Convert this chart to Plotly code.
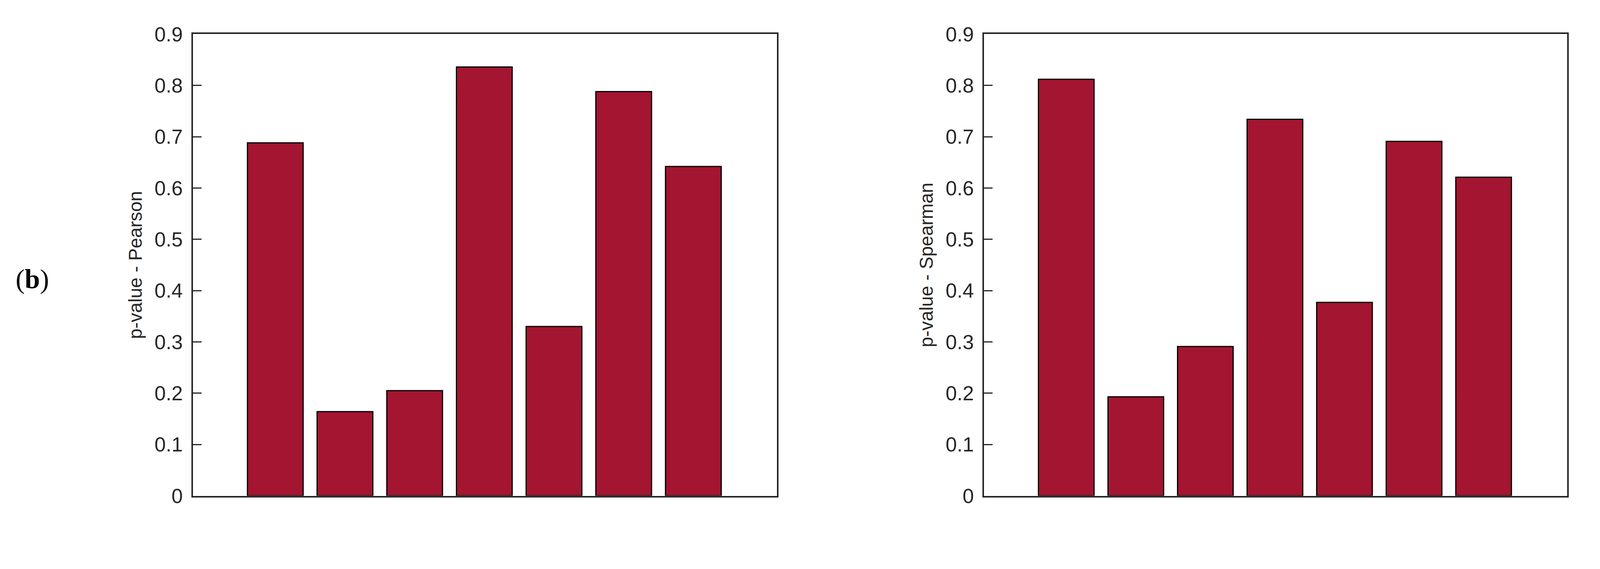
import plotly.graph_objects as go

categories = [1, 2, 3, 4, 5, 6, 7]
pearson = [0.688, 0.164, 0.205, 0.836, 0.330, 0.788, 0.642]
spearman = [0.812, 0.193, 0.291, 0.734, 0.377, 0.691, 0.621]
yticks = [0, 0.1, 0.2, 0.3, 0.4, 0.5, 0.6, 0.7, 0.8, 0.9]
ytick_text = ["0", "0.1", "0.2", "0.3", "0.4", "0.5", "0.6", "0.7", "0.8", "0.9"]

fig = go.Figure()
bar_style = dict(marker=dict(color="#A31530", line=dict(color="black", width=3)), width=0.8, showlegend=False)
fig.add_trace(go.Bar(x=categories, y=pearson, xaxis="x", yaxis="y", **bar_style))
fig.add_trace(go.Bar(x=categories, y=spearman, xaxis="x2", yaxis="y2", **bar_style))

ax_common = dict(showline=True, linecolor="#262626", linewidth=4, mirror=True, showgrid=False, zeroline=False)
xax = dict(range=[-0.18, 8.2], showticklabels=False, ticks="", **ax_common)
yax = dict(range=[0, 0.9], tickvals=yticks, ticktext=ytick_text, ticks="inside", ticklen=22, tickwidth=3,
           tickcolor="#262626", tickfont=dict(family="Liberation Sans Narrow, Arial Narrow, sans-serif", size=52, color="#262626"),
           ticklabelstandoff=12, **ax_common)
title_font = dict(family="Liberation Sans, Arial", size=48, color="#262626")
fig.update_layout(
    width=4288, height=1457, plot_bgcolor="white", paper_bgcolor="white",
    margin=dict(l=0, r=0, t=0, b=0), bargap=0.2,
    xaxis=dict(domain=[0.1134, 0.462], anchor="y", **xax),
    yaxis=dict(domain=[0.119, 0.964], anchor="x",
               title=dict(text="p-value - Pearson", font=title_font, standoff=18), **yax),
    xaxis2=dict(domain=[0.5857, 0.9337], anchor="y2", **xax),
    yaxis2=dict(domain=[0.119, 0.964], anchor="x2",
                title=dict(text="p-value - Spearman", font=title_font, standoff=18), **yax),
    annotations=[dict(text="(<b>b</b>)", x=0.0176, y=0.516, xref="paper", yref="paper", showarrow=False,
                      xanchor="center", yanchor="middle",
                      font=dict(family="Liberation Serif, Times New Roman, serif", size=70, color="black"))],
)
fig.write_html("out.html")
